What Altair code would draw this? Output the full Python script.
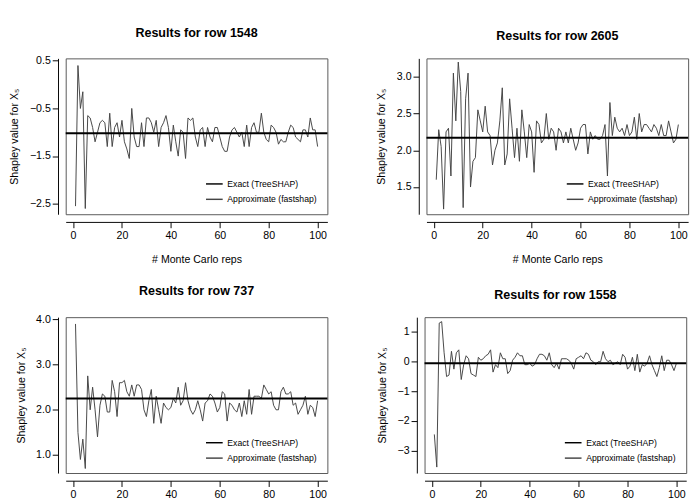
import altair as alt
import pandas as pd

reps = list(range(1, 101))

rows = [1548, 2605, 737, 1558]
exact = [-1.02, 2.17, 2.25, -0.05]

approx_1548 = [-2.55, 0.4, -0.5, -0.15, -2.6, -0.65, -0.7, -0.9, -1.2, -1.0,
               -0.8, -0.75, -0.8, -1.3, -0.6, -1.3, -0.9, -0.8, -1.1, -0.75,
               -1.2, -1.35, -1.55, -0.5, -1.1, -1.3, -1.3, -0.8, -1.3, -0.7,
               -0.7, -0.8, -1.0, -0.75, -1.3, -0.9, -0.8, -0.65, -0.9, -1.4,
               -0.85, -1.2, -1.5, -0.95, -1.0, -1.55, -0.7, -0.75, -0.7, -1.1,
               -1.3, -0.95, -0.9, -1.3, -0.9, -1.1, -1.2, -0.9, -0.9, -1.1,
               -1.3, -1.4, -1.4, -1.1, -0.95, -0.9, -1.0, -1.1, -1.0, -1.3,
               -0.85, -1.3, -0.9, -0.8, -1.0, -1.0, -0.6, -1.0, -1.15, -1.2,
               -0.85, -0.9, -1.0, -1.25, -1.15, -1.2, -1.2, -1.0, -0.85, -0.9,
               -1.1, -1.15, -1.2, -0.95, -0.95, -1.1, -0.7, -0.95, -0.95, -1.3]
approx_2605 = [1.6, 2.28, 2.05, 1.2, 2.25, 2.3, 1.65, 3.05, 2.4, 3.2,
               2.8, 1.22, 2.7, 3.05, 1.5, 1.85, 1.9, 2.55, 2.4, 2.25,
               2.6, 2.25, 2.2, 1.8, 2.0, 2.1, 2.4, 2.85, 1.8, 1.95,
               2.7, 2.3, 1.9, 2.3, 1.85, 2.55, 2.25, 1.9, 2.35, 2.25,
               1.7, 2.4, 2.35, 2.1, 2.15, 2.5, 2.15, 2.3, 2.25, 2.0,
               2.3, 2.25, 2.1, 2.25, 2.1, 2.3, 2.15, 2.0, 2.1, 2.3,
               2.35, 2.35, 1.95, 2.25, 2.15, 2.2, 2.15, 2.15, 2.2, 2.35,
               1.65, 2.65, 2.2, 2.45, 2.3, 2.25, 2.3, 2.2, 2.35, 2.2,
               2.25, 2.45, 2.15, 2.5, 2.25, 2.35, 2.35, 2.3, 2.25, 2.35,
               2.3, 2.2, 2.35, 2.2, 2.2, 2.4, 2.25, 2.1, 2.15, 2.35]
approx_737 = [3.9, 1.5, 0.9, 1.35, 0.7, 2.75, 2.0, 2.5, 2.0, 1.4,
              2.1, 2.35, 2.3, 1.95, 1.95, 2.65, 2.4, 1.85, 2.6, 2.6,
              2.65, 2.4, 2.3, 2.55, 2.3, 2.55, 2.55, 2.45, 2.0, 1.85,
              2.2, 2.45, 1.7, 2.3, 2.0, 1.7, 2.15, 2.05, 2.0, 2.05,
              2.25, 2.15, 2.5, 2.1, 2.2, 2.6, 2.2, 2.0, 1.9, 2.0,
              2.2, 2.0, 1.75, 2.15, 2.2, 2.35, 2.3, 2.15, 1.95, 2.05,
              2.4, 2.35, 1.75, 2.15, 2.1, 2.0, 1.95, 2.15, 1.85, 2.2,
              1.9, 2.45, 1.9, 2.3, 2.3, 2.3, 2.25, 2.55, 2.45, 2.35,
              2.4, 2.1, 2.0, 2.0, 2.4, 2.5, 2.35, 2.35, 2.4, 2.1,
              2.15, 1.9, 2.0, 2.1, 2.3, 1.9, 2.1, 2.05, 1.85, 2.2]
approx_1558 = [-2.45, -3.55, 1.3, 1.35, 0.3, -0.5, -0.45, 0.35, -0.25, 0.3,
               0.4, -0.6, -0.1, 0.2, 0.1, -0.4, -0.45, -0.5, 0.15, 0.05,
               0.1, 0.2, 0.25, 0.4, -0.35, -0.1, -0.2, 0.3, 0.1, 0.1,
               -0.4, -0.3, 0.05, 0.15, 0.3, 0.2, 0.2, -0.1, -0.1, -0.05,
               -0.15, -0.1, 0.1, 0.25, 0.25, 0.2, 0.05, 0.3, -0.1, -0.2,
               -0.05, -0.25, 0.1, 0.1, 0.1, 0.05, -0.05, -0.25, 0.1, 0.15,
               0.2, 0.1, 0.3, 0.25, 0.05, 0.0, -0.1, 0.0, 0.0, 0.35,
               0.1, 0.0, 0.05, -0.1, -0.05, 0.0, -0.1, 0.25, 0.15, -0.25,
               -0.15, 0.15, -0.3, 0.25, -0.35, -0.1, -0.15, -0.05, 0.2, -0.1,
               -0.3, -0.5, -0.2, 0.2, -0.3, 0.05, 0.05, -0.1, -0.3, -0.05]

approx = [approx_1548, approx_2605, approx_737, approx_1558]
y_domains = [[-2.72, 0.55], [1.13, 3.25], [0.6, 4.05], [-3.75, 1.5]]
y_ticks = [[-2.5, -2.0, -1.5, -1.0, -0.5, 0.0, 0.5],
           [1.5, 2.0, 2.5, 3.0],
           [1.0, 1.5, 2.0, 2.5, 3.0, 3.5, 4.0],
           [-3, -2, -1, 0, 1]]
y_formats = [".1f", ".1f", ".1f", "d"]

series = ["Exact (TreeSHAP)", "Approximate (fastshap)"]
color_scale = alt.Scale(domain=series, range=["black", "#444444"])


def make_panel(i):
    df = pd.DataFrame({"rep": reps, "value": approx[i], "series": series[1]})
    ex = pd.DataFrame({"value": [exact[i]], "series": [series[0]]})
    legend = alt.Legend(title=None, orient="bottom-right", symbolType="stroke",
                        padding=4, labelFontSize=9, symbolSize=300,
                        symbolStrokeWidth=1.5, offset=6, rowPadding=1,
                        labelFont="Liberation Sans")
    line = alt.Chart(df).mark_line(strokeWidth=1).encode(
        alt.X("rep:Q", title="# Monte Carlo reps",
              scale=alt.Scale(domain=[-3, 104], nice=False),
              axis=alt.Axis(values=[0, 20, 40, 60, 80, 100], offset=8,
                            titlePadding=14)),
        alt.Y("value:Q", title="Shapley value for X₅",
              scale=alt.Scale(domain=y_domains[i], nice=False, zero=False),
              axis=alt.Axis(values=y_ticks[i], format=y_formats[i], offset=8,
                            titlePadding=10)),
        color=alt.Color("series:N", scale=color_scale, legend=legend),
    )
    rule = alt.Chart(ex).mark_rule(strokeWidth=2).encode(
        y="value:Q",
        color=alt.Color("series:N", scale=color_scale, legend=legend),
    )
    return (line + rule).properties(
        width=272, height=162,
        title=alt.TitleParams(f"Results for row {rows[i]}", fontSize=13,
                              fontWeight="bold", anchor="middle", offset=16),
    )


chart = alt.vconcat(
    alt.hconcat(make_panel(0), make_panel(1), spacing=48).resolve_scale(color="independent"),
    alt.hconcat(make_panel(2), make_panel(3), spacing=48).resolve_scale(color="independent"),
    spacing=20,
).resolve_scale(
    color="independent"
).configure_view(
    stroke="#555555"
).configure_axis(
    grid=False, domainColor="black", tickColor="black", labelColor="black",
    titleColor="black", labelFont="Liberation Sans", titleFont="Liberation Sans",
    labelFontSize=11, titleFontSize=11, titleFontWeight="normal", tickSize=6,
    labelOverlap=False
).configure_title(
    font="Liberation Sans"
).properties(
    background="white", padding={"left": 0, "right": 2, "top": 8, "bottom": 0}
)

chart.save("out.html", embed_options={"renderer": "svg", "actions": False})
